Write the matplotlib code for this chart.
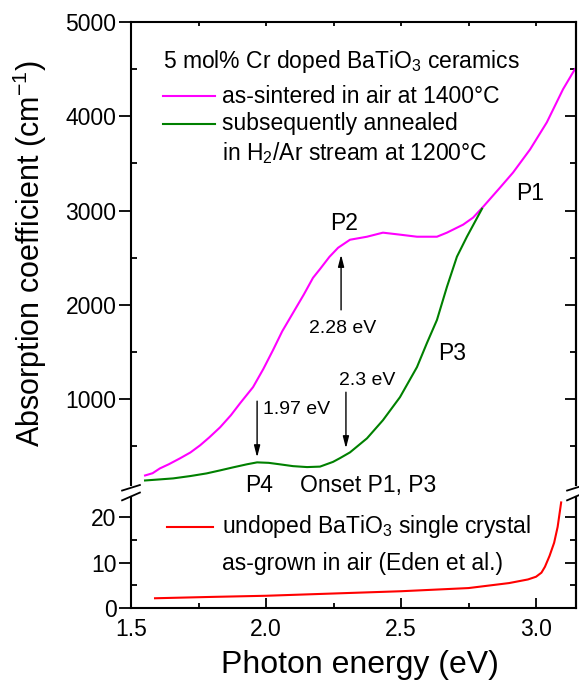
import numpy as np
import matplotlib
matplotlib.use('Agg')
import matplotlib.pyplot as plt

plt.rcParams['font.family'] = ['Liberation Sans', 'DejaVu Sans']
plt.rcParams['mathtext.fontset'] = 'custom'
plt.rcParams['mathtext.rm'] = 'Liberation Sans'

# as-sintered in air (magenta)
sint_e = [1.552, 1.58, 1.607, 1.64, 1.681, 1.72, 1.756, 1.79, 1.830, 1.87, 1.904, 1.952, 1.99,
          2.026, 2.06, 2.10, 2.14, 2.174, 2.20, 2.235, 2.267, 2.311, 2.374, 2.433, 2.496, 2.559,
          2.633, 2.670, 2.73, 2.767, 2.804, 2.867, 2.915, 2.978, 3.04, 3.1, 3.144]
sint_a = [191, 215, 266, 310, 372, 435, 511, 595, 702, 830, 957, 1128, 1320,
          1521, 1720, 1915, 2110, 2287, 2380, 2510, 2606, 2691, 2723, 2766, 2745, 2723,
          2723, 2766, 2851, 2926, 3040, 3245, 3404, 3649, 3936, 4287, 4500]

# annealed in H2/Ar (green)
ann_e = [1.552, 1.60, 1.656, 1.72, 1.78, 1.83, 1.878, 1.93, 1.967, 2.01, 2.052, 2.10, 2.152,
         2.20, 2.248, 2.274, 2.311, 2.374, 2.433, 2.496, 2.559, 2.596, 2.633, 2.670, 2.707,
         2.744, 2.80]
ann_a = [138, 148, 160, 185, 213, 245, 277, 310, 330, 325, 309, 290, 280,
         285, 335, 375, 436, 585, 777, 1021, 1340, 1596, 1840, 2191, 2511,
         2723, 3020]

# undoped single crystal (red)
cry_e = [1.589, 1.8, 2.0, 2.25, 2.5, 2.75, 2.9, 2.97, 3.0, 3.02, 3.033, 3.05, 3.067, 3.08, 3.093]
cry_a = [2.15, 2.45, 2.7, 3.2, 3.7, 4.4, 5.5, 6.3, 6.9, 7.8, 9.1, 11.5, 14.4, 17.9, 23.3]

fig = plt.figure(figsize=(5.79, 6.87), dpi=100)
L, W = 131/579, 445/579
ax = fig.add_axes([L, 1-485/687, W, 463/687])
axb = fig.add_axes([L, 1-608/687, W, 111/687])

fs = 16.5

ax.plot(sint_e, sint_a, color='#FF00FF', lw=1.5)
ax.plot(ann_e, ann_a, color='#008000', lw=1.5)
axb.plot(cry_e, cry_a, color='#FF0000', lw=1.5)

for a in (ax, axb):
    a.set_xlim(1.5, 3.148)
    for s in a.spines.values():
        s.set_linewidth(1.5)
    a.tick_params(axis='y', which='major', direction='out', length=9, width=1.3,
                  labelsize=fs, pad=1.5, right=False)
    a.tick_params(axis='y', which='minor', direction='in', length=4, width=1.3, right=False)
    sec = a.secondary_yaxis('right')
    sec.tick_params(axis='y', which='major', direction='in', length=8, width=1.3, labelright=False)
    sec.tick_params(axis='y', which='minor', direction='in', length=4, width=1.3)
    sec.spines['right'].set_linewidth(1.5)

ax.set_ylim(90, 5000)
ax.set_yticks([1000, 2000, 3000, 4000, 5000])
ax.set_yticks(np.arange(500, 5000, 500), minor=True)
ax.spines['bottom'].set_visible(False)
ax.tick_params(axis='x', which='both', bottom=False, labelbottom=False, top=True,
               direction='in', length=3, width=1.3)
ax.set_xticks([1.5, 2.0, 2.5, 3.0])
ax.set_xticks([1.75, 2.25, 2.75], minor=True)
for sec in ax.child_axes:
    sec.set_yticks([1000, 2000, 3000, 4000, 5000])
    sec.set_yticks(np.arange(500, 5000, 500), minor=True)

axb.set_ylim(0, 24.5)
axb.set_yticks([0, 10, 20])
axb.set_yticks([5, 15], minor=True)
axb.spines['top'].set_visible(False)
axb.set_xticks([1.5, 2.0, 2.5, 3.0])
axb.set_xticklabels(['1.5', '2.0', '2.5', '3.0'])
axb.set_xticks([1.75, 2.25, 2.75], minor=True)
axb.tick_params(axis='x', which='major', direction='in', length=7, width=1.3, labelsize=fs, pad=7)
axb.tick_params(axis='x', which='minor', direction='in', length=3.5, width=1.3)
for sec in axb.child_axes:
    sec.set_yticks([0, 10, 20])
    sec.set_yticks([5, 15], minor=True)

# break marks
kw = dict(color='k', lw=1.3, clip_on=False)
for xa in (0.0, 1.0):
    ax.plot([xa - 0.02, xa + 0.02], [-0.012, 0.0], transform=ax.transAxes, **kw)
    axb.plot([xa - 0.02, xa + 0.02], [0.97, 1.04], transform=axb.transAxes, **kw)

# legend-like labels
ax.text(0.072, 0.914, r'5 mol% Cr doped BaTiO$_3$ ceramics', transform=ax.transAxes,
        fontsize=fs, va='center')
ax.plot([0.072, 0.189], [0.840, 0.840], transform=ax.transAxes, color='#FF00FF', lw=1.5)
ax.text(0.2045, 0.840, 'as-sintered in air at 1400°C', transform=ax.transAxes,
        fontsize=fs, va='center')
ax.plot([0.072, 0.189], [0.780, 0.780], transform=ax.transAxes, color='#008000', lw=1.5)
ax.text(0.2045, 0.780, 'subsequently annealed', transform=ax.transAxes,
        fontsize=fs, va='center')
ax.text(0.2045, 0.717, r'in H$_2$/Ar stream at 1200°C', transform=ax.transAxes,
        fontsize=fs, va='center')

axb.plot([0.081, 0.184], [0.73, 0.73], transform=axb.transAxes, color='#FF0000', lw=1.5)
axb.text(0.2045, 0.73, r'undoped BaTiO$_3$ single crystal', transform=axb.transAxes,
         fontsize=fs, va='center')
axb.text(0.2045, 0.405, 'as-grown in air (Eden et al.)', transform=axb.transAxes,
         fontsize=fs, va='center')

# peak labels
ax.text(2.978, 3183, 'P1', fontsize=fs, ha='center', va='center')
ax.text(2.289, 2866, 'P2', fontsize=fs, ha='center', va='center')
ax.text(2.689, 1486, 'P3', fontsize=fs, ha='center', va='center')
ax.text(1.974, 85, 'P4', fontsize=fs, ha='center', va='center')
ax.text(2.378, 85, 'Onset P1, P3', fontsize=fs, ha='center', va='center')

ap = dict(arrowstyle='-|>,head_length=0.7,head_width=0.18', color='k', lw=1.0, shrinkA=0, shrinkB=0)
ax.annotate('', xy=(2.278, 2532), xytext=(2.278, 1947), arrowprops=ap)
ax.text(2.285, 1751, '2.28 eV', fontsize=14, ha='center', va='center')
ax.annotate('', xy=(2.296, 479), xytext=(2.296, 1074), arrowprops=ap)
ax.text(2.374, 1200, '2.3 eV', fontsize=14, ha='center', va='center')
ax.annotate('', xy=(1.967, 383), xytext=(1.967, 979), arrowprops=ap)
ax.text(1.989, 892, '1.97 eV', fontsize=14, ha='left', va='center')

fig.text(360/579, 1-665/687, 'Photon energy (eV)', fontsize=23, ha='center', va='center')
fig.text(30/579, 1-254/687, r'Absorption coefficient (cm$^{\mathregular{-1}}$)', fontsize=22,
         ha='center', va='center', rotation=90)

fig.savefig('out.png', dpi=100)
